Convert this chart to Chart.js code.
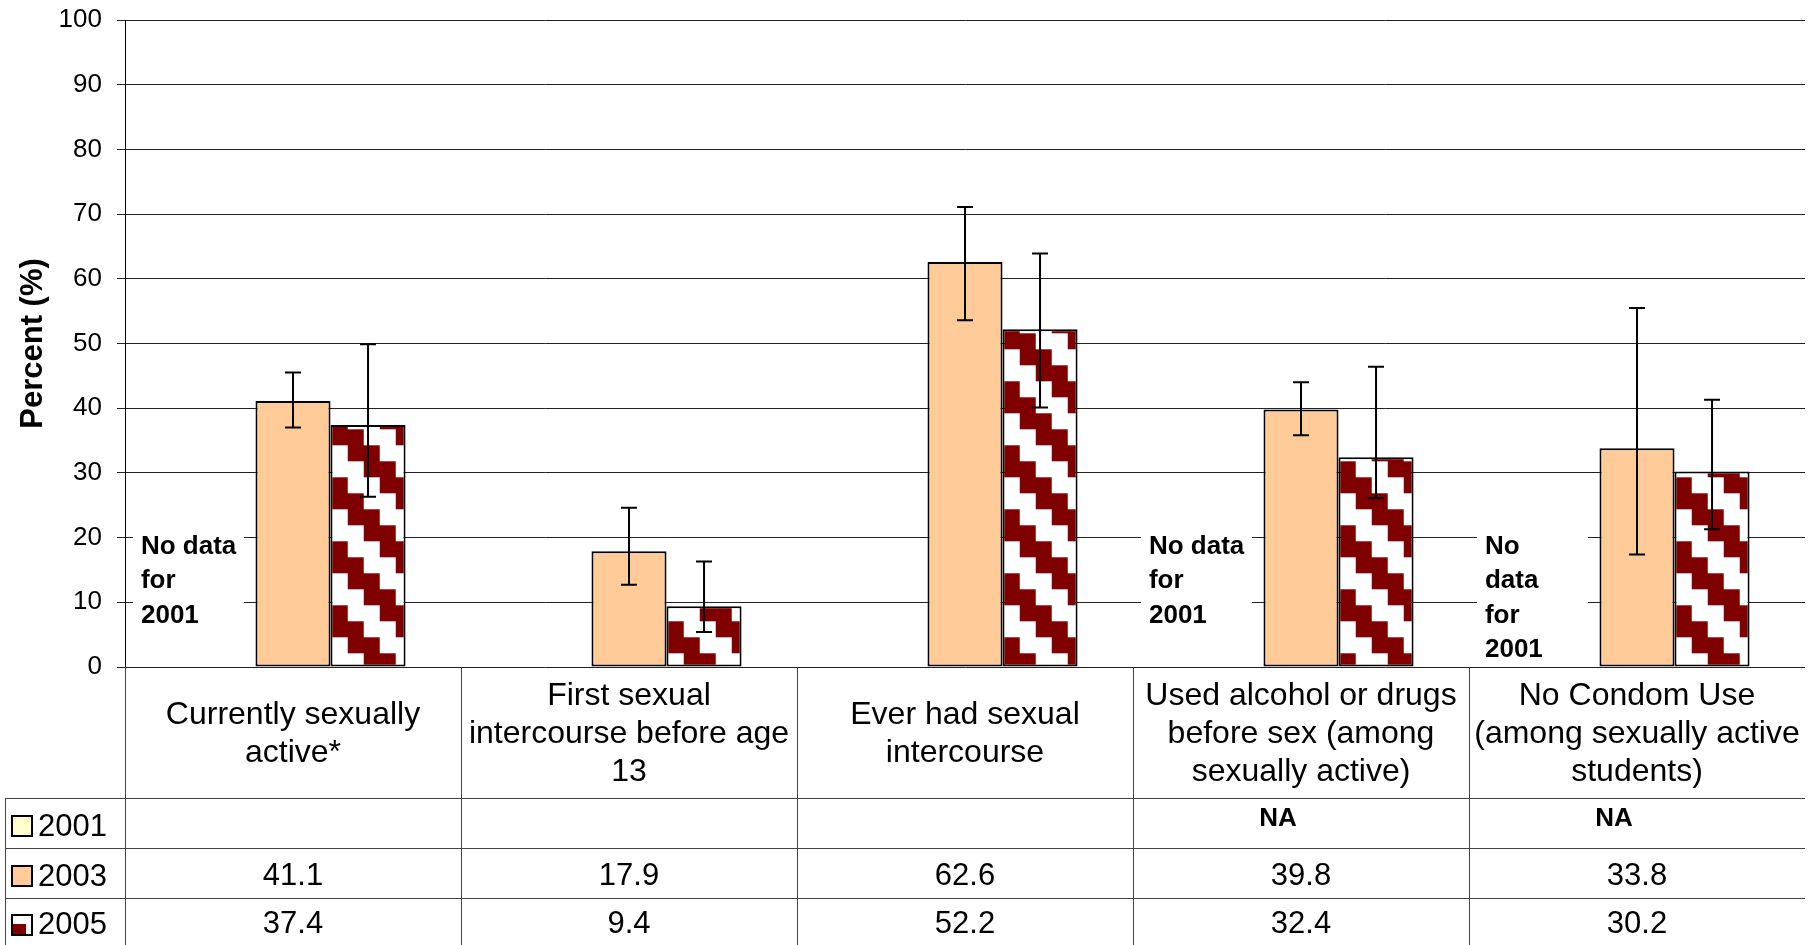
<!DOCTYPE html>
<html>
<head>
<meta charset="utf-8">
<script src="https://cdn.jsdelivr.net/npm/chart.js@4.4.0/dist/chart.umd.min.js"></script>
<style>
  html, body { margin: 0; padding: 0; background: #fff; }
  canvas { display: block; }
</style>
</head>
<body>
<canvas id="chart" width="1816" height="945"></canvas>
<script>
const categories = [
  ['Currently sexually', 'active*'],
  ['First sexual', 'intercourse before age', '13'],
  ['Ever had sexual', 'intercourse'],
  ['Used alcohol or drugs', 'before sex (among', 'sexually active)'],
  ['No Condom Use', '(among sexually active', 'students)']
]
const years = ['2001', '2003', '2005']
const values2001 = [null, null, null, null, null]
const values2003 = [41.1, 17.9, 62.6, 39.8, 33.8]
const values2005 = [37.4, 9.4, 52.2, 32.4, 30.2]
const table2001 = ['', '', '', 'NA', 'NA']
const errLow2003 = [37.0, 12.7, 53.6, 35.8, 17.4]
const errHigh2003 = [45.5, 24.6, 71.1, 44.0, 55.5]
const errLow2005 = [26.3, 5.4, 40.1, 26.1, 21.3]
const errHigh2005 = [49.9, 16.3, 63.9, 46.4, 41.3]
const noDataNotes = [['No data', 'for', '2001'], null, null, ['No data', 'for', '2001'], ['No', 'data', 'for', '2001']]
const yTicks = [0, 10, 20, 30, 40, 50, 60, 70, 80, 90, 100]

const FONT = '"Liberation Sans", Arial, sans-serif'
const MAROON = '#800000'

// zigzag fill for the 2005 bars
function makeZigzag() {
  const c = document.createElement('canvas')
  c.width = 64; c.height = 64
  const g = c.getContext('2d')
  g.fillStyle = '#fff'
  g.fillRect(0, 0, 64, 64)
  g.fillStyle = MAROON
  for (let r = 0; r < 4; r++) {
    for (let k = 0; k < 2; k++) {
      g.fillRect(((r + 2 + k) % 4) * 16, r * 16, 16, 16)
    }
  }
  const p = g.createPattern(c, 'repeat')
  p.setTransform(new DOMMatrix().translate(11.7, 13.3))
  return p
}
const zigzag = makeZigzag()

const errorBars = {
  id: 'errorBars',
  afterDatasetsDraw(chart) {
    const {ctx, scales: {y}} = chart
    const sets = [[1, errLow2003, errHigh2003], [2, errLow2005, errHigh2005]]
    ctx.save()
    ctx.strokeStyle = '#000'
    ctx.lineWidth = 2
    sets.forEach(([di, lo, hi]) => {
      chart.getDatasetMeta(di).data.forEach((bar, i) => {
        const yl = y.getPixelForValue(lo[i]), yh = y.getPixelForValue(hi[i])
        ctx.beginPath()
        ctx.moveTo(bar.x, yl); ctx.lineTo(bar.x, yh)
        ctx.moveTo(bar.x - 8, yl); ctx.lineTo(bar.x + 8, yl)
        ctx.moveTo(bar.x - 8, yh); ctx.lineTo(bar.x + 8, yh)
        ctx.stroke()
      })
    })
    ctx.restore()
  }
}

const noDataLabels = {
  id: 'noDataLabels',
  afterDatasetsDraw(chart) {
    const {ctx, scales: {y}} = chart
    const bars = chart.getDatasetMeta(0).data
    ctx.save()
    ctx.font = 'bold 26px ' + FONT
    ctx.textAlign = 'left'
    ctx.textBaseline = 'alphabetic'
    noDataNotes.forEach((lines, i) => {
      if (!lines) return
      const lx = bars[i].x - 77
      const top = y.getPixelForValue(22.5)
      ctx.fillStyle = '#fff'
      ctx.fillRect(lx - 8, top, 111, y.getPixelForValue(1) - top)
      ctx.fillStyle = '#000'
      lines.forEach((t, k) => ctx.fillText(t, lx, y.getPixelForValue(17.5) + k * 34.5))
    })
    ctx.restore()
  }
}

const dataTable = {
  id: 'dataTable',
  afterDraw(chart) {
    const {ctx, chartArea: {left, right, bottom}, scales: {x}} = chart
    const colW = x.getPixelForValue(1) - x.getPixelForValue(0)
    const H = chart.height
    const rowTops = [bottom + 131, bottom + 181, bottom + 231]
    const rowBottoms = [bottom + 181, bottom + 231, H]
    ctx.save()
    ctx.strokeStyle = '#444'
    ctx.lineWidth = 1
    ctx.beginPath()
    for (let i = 0; i < categories.length; i++) {
      const cx = Math.round(x.getPixelForValue(i) - colW / 2) + 0.5
      ctx.moveTo(cx, bottom); ctx.lineTo(cx, H)
    }
    ctx.moveTo(5.5, rowTops[0]); ctx.lineTo(5.5, H)
    rowTops.forEach(t => { ctx.moveTo(5, t + 0.5); ctx.lineTo(right, t + 0.5) })
    ctx.stroke()

    // category header cells
    ctx.fillStyle = '#000'
    ctx.textAlign = 'center'
    ctx.textBaseline = 'middle'
    ctx.font = '32px ' + FONT
    const headMid = bottom + 65
    categories.forEach((lines, i) => {
      const cx = x.getPixelForValue(i)
      const y0 = headMid - (lines.length - 1) * 38 / 2
      lines.forEach((t, k) => ctx.fillText(t, cx, y0 + k * 38 + 2))
    })

    // legend keys and values
    const colors = chart.data.datasets.map(d => d.backgroundColor)
    const rows = [table2001, values2003, values2005]
    years.forEach((yr, r) => {
      const mid = (rowTops[r] + rowBottoms[r]) / 2
      const sy = Math.round(mid - 7)
      if (r === 2) {
        ctx.fillStyle = '#fff'
        ctx.fillRect(12, sy, 20, 20)
        ctx.fillStyle = MAROON
        ctx.fillRect(13, sy + 9, 13, 10)
      } else {
        ctx.fillStyle = colors[r]
        ctx.fillRect(12, sy, 20, 20)
      }
      ctx.strokeStyle = '#000'
      ctx.lineWidth = 2
      ctx.strokeRect(12, sy, 20, 20)
      ctx.fillStyle = '#000'
      ctx.textAlign = 'left'
      ctx.font = '31px ' + FONT
      ctx.fillText(yr, 38, mid + 4)
      ctx.textAlign = 'center'
      rows[r].forEach((v, i) => {
        if (v === null || v === '') return
        if (r === 0) {
          ctx.font = 'bold 26px ' + FONT
          ctx.fillText(String(v), x.getPixelForValue(i) - 23, mid - 4)
        } else {
          ctx.font = '31px ' + FONT
          ctx.fillText(v.toFixed(1), x.getPixelForValue(i), mid + 3)
        }
      })
    })
    ctx.restore()
  }
}

const config = {
  type: 'bar',
  data: {
    labels: categories,
    datasets: [
      { label: years[0], data: values2001, backgroundColor: '#FFFFCC' },
      { label: years[1], data: values2003, backgroundColor: '#FFCC99' },
      { label: years[2], data: values2005, backgroundColor: zigzag }
    ]
  },
  options: {
    responsive: false,
    animation: false,
    layout: { padding: { left: 0, right: 11, top: 20, bottom: 278 } },
    datasets: {
      bar: {
        categoryPercentage: 0.67,
        barPercentage: 1,
        borderColor: '#000',
        borderWidth: 2,
        borderSkipped: false
      }
    },
    scales: {
      x: { display: false },
      y: {
        min: 0,
        max: 100,
        afterBuildTicks: s => { s.ticks = yTicks.map(v => ({ value: v })) },
        afterFit: s => { s.width = 125; s.paddingTop = 0; s.paddingBottom = 0 },
        grid: { color: '#222', tickColor: '#222', tickLength: 8 },
        border: { color: '#000', width: 1 },
        ticks: { color: '#000', padding: 15, font: { family: FONT, size: 26 } },
        title: {
          display: true,
          text: 'Percent (%)',
          color: '#000',
          font: { family: FONT, size: 31, weight: 'bold' },
          padding: { top: 15, bottom: 0 }
        }
      }
    },
    plugins: {
      legend: { display: false },
      tooltip: { enabled: false }
    }
  },
  plugins: [errorBars, noDataLabels, dataTable]
}

new Chart(document.getElementById('chart'), config)
</script>
</body>
</html>
